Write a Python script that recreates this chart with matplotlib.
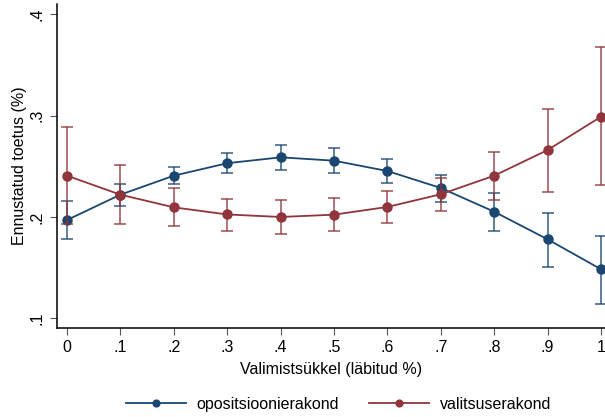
import matplotlib.pyplot as plt
import numpy as np

plt.rcParams['font.family'] = ['Liberation Sans', 'DejaVu Sans']

# predicted support with 95% CI across the electoral cycle
tsykkel = [0, .1, .2, .3, .4, .5, .6, .7, .8, .9, 1]

opos = [0.197, 0.222, 0.2407, 0.253, 0.2588, 0.2555, 0.2453, 0.2286, 0.2052, 0.178, 0.1485]
opos_lo = [0.178, 0.211, 0.233, 0.243, 0.2463, 0.2433, 0.2335, 0.2145, 0.186, 0.151, 0.1143]
opos_hi = [0.2158, 0.2325, 0.249, 0.2634, 0.2706, 0.268, 0.2568, 0.2414, 0.224, 0.204, 0.1816]

valits = [0.2407, 0.222, 0.2095, 0.2025, 0.2, 0.2023, 0.2099, 0.2224, 0.2407, 0.266, 0.2988]
valits_lo = [0.1928, 0.1928, 0.1908, 0.1865, 0.1836, 0.1862, 0.1944, 0.2062, 0.2167, 0.2246, 0.2312]
valits_hi = [0.289, 0.2515, 0.2283, 0.2182, 0.2164, 0.2187, 0.2253, 0.238, 0.2643, 0.3067, 0.3672]

sinine = '#1a476f'
punane = '#90353b'
fs = 11.5

fig = plt.figure(figsize=(6.05, 4.17), dpi=100)
ax = fig.add_axes([57/605, 89/417, 548/605, 324/417])

for y, lo, hi, col, nimi in [(opos, opos_lo, opos_hi, sinine, 'opositsioonierakond'),
                             (valits, valits_lo, valits_hi, punane, 'valitsuserakond')]:
    y = np.array(y)
    err = [y - np.array(lo), np.array(hi) - y]
    ax.errorbar(tsykkel, y, yerr=err, fmt='none', ecolor=col, alpha=0.75,
                elinewidth=1.3, capsize=4, capthick=1.3)
    ax.plot(tsykkel, y, color=col, lw=1.3, marker='o', ms=6.5, label=nimi)

ax.set_xlim(-0.0187, 1.0075)
ax.set_ylim(0.0906, 0.4099)
ax.set_xticks(tsykkel)
ax.set_xticklabels(['0', '.1', '.2', '.3', '.4', '.5', '.6', '.7', '.8', '.9', '1'])
ax.set_yticks([.1, .2, .3, .4])
ax.set_yticklabels(['.1', '.2', '.3', '.4'], rotation=90, va='center')
ax.tick_params(direction='out', length=5, color='#555555', labelsize=fs, pad=4)
for s in ['top', 'right']:
    ax.spines[s].set_visible(False)
for s in ['left', 'bottom']:
    ax.spines[s].set_linewidth(1.1)

ax.set_xlabel('Valimistsükkel (läbitud %)', fontsize=fs, labelpad=5)
ax.set_ylabel('Ennustatud toetus (%)', fontsize=fs, labelpad=2)

fig.legend(loc='lower center', bbox_to_anchor=(338.5/605, -0.022), ncol=2, frameon=False,
           fontsize=fs, handlelength=3.75, columnspacing=1.9, handletextpad=0.65,
           markerscale=0.75)

fig.savefig('out.png', dpi=100)
